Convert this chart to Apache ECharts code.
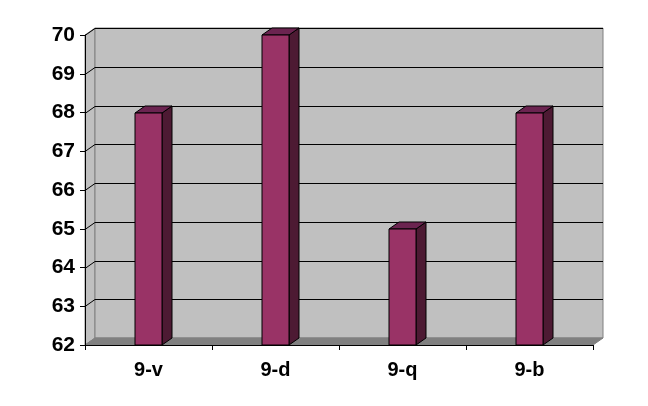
<!DOCTYPE html>
<html><head><meta charset="utf-8">
<script src="https://cdn.jsdelivr.net/npm/echarts@6/dist/echarts.min.js"></script>
<style>html,body{margin:0;padding:0;background:#fff}#c{width:648px;height:406px}</style>
</head><body><div id="c"></div>
<script>
var categories = ['9-v', '9-d', '9-q', '9-b'];
var values = [68, 70, 65, 68];
var yTicks = [62, 63, 64, 65, 66, 67, 68, 69, 70];

var DX = 10, DY = -7;
var FONT = '"Liberation Sans", Arial, sans-serif';

var chart = echarts.init(document.getElementById('c'));

function wallRender(params, api) {
  var cs = params.coordSys;
  var x0 = cs.x, x1 = cs.x + cs.width, yb = cs.y + cs.height, yt = cs.y;
  var ch = [];
  // side wall
  ch.push({type: 'polygon', shape: {points: [[x0, yb], [x0, yt], [x0 + DX, yt + DY], [x0 + DX, yb + DY]]},
    style: {fill: '#c0c0c0', stroke: '#808080', lineWidth: 1}});
  // back wall
  ch.push({type: 'rect', shape: {x: x0 + DX, y: yt + DY, width: cs.width, height: cs.height},
    style: {fill: '#c0c0c0', stroke: '#808080', lineWidth: 1}});
  // floor
  ch.push({type: 'polygon', shape: {points: [[x0, yb], [x1, yb], [x1 + DX, yb + DY], [x0 + DX, yb + DY]]},
    style: {fill: '#808080', stroke: '#808080', lineWidth: 1}});
  for (var i = 0; i < yTicks.length; i++) {
    var v = yTicks[i];
    if (v === yTicks[0]) continue;
    var y = Math.round(api.coord([0, v])[1]) + 0.5;
    ch.push({type: 'polyline', shape: {points: [[x0, y], [x0 + DX, y + DY], [x1 + DX, y + DY]]},
      style: {stroke: '#000', lineWidth: 1, fill: null}});
  }
  return {type: 'group', children: ch};
}

function barRender(params, api) {
  var idx = api.value(0);
  var top = api.coord([idx, api.value(1)]);
  var base = api.coord([idx, yTicks[0]]);
  var w = api.size([1, 0])[0] * 0.22;
  var xl = Math.round(top[0] - w / 2), xr = Math.round(top[0] + w / 2);
  var yt = Math.round(top[1]), yb = Math.round(base[1]);
  return {type: 'group', children: [
    {type: 'polygon', shape: {points: [[xr, yt], [xr + DX, yt + DY], [xr + DX, yb + DY], [xr, yb]]},
      style: {fill: '#4d1a33', stroke: '#000', lineWidth: 1}},
    {type: 'polygon', shape: {points: [[xl, yt], [xl + DX, yt + DY], [xr + DX, yt + DY], [xr, yt]]},
      style: {fill: '#6b2450', stroke: '#000', lineWidth: 1}},
    {type: 'rect', shape: {x: xl, y: yt, width: xr - xl, height: yb - yt},
      style: {fill: '#993366', stroke: '#000', lineWidth: 1}}
  ]};
}

chart.setOption({
  animation: false,
  backgroundColor: '#fff',
  grid: {left: 85, right: 55, top: 35, bottom: 61},
  xAxis: {
    type: 'category', data: categories,
    axisLine: {lineStyle: {color: '#000', width: 1}},
    axisTick: {show: true, length: 5, lineStyle: {color: '#000'}},
    axisLabel: {color: '#000', fontFamily: FONT, fontWeight: 'bold', fontSize: 20, margin: 15},
    splitLine: {show: false}
  },
  yAxis: {
    type: 'value', min: 62, max: 70, interval: 1,
    axisLine: {show: true, lineStyle: {color: '#000', width: 1}},
    axisTick: {show: true, length: 5, lineStyle: {color: '#000'}},
    axisLabel: {color: '#000', fontFamily: FONT, fontWeight: 'bold', fontSize: 21, margin: 10},
    splitLine: {show: false}
  },
  series: [
    {type: 'custom', z: -1, renderItem: wallRender, data: [[0, 62]], silent: true},
    {type: 'custom', z: 3, renderItem: barRender,
      data: values.map(function (v, i) { return [i, v]; })}
  ]
});
</script></body></html>
